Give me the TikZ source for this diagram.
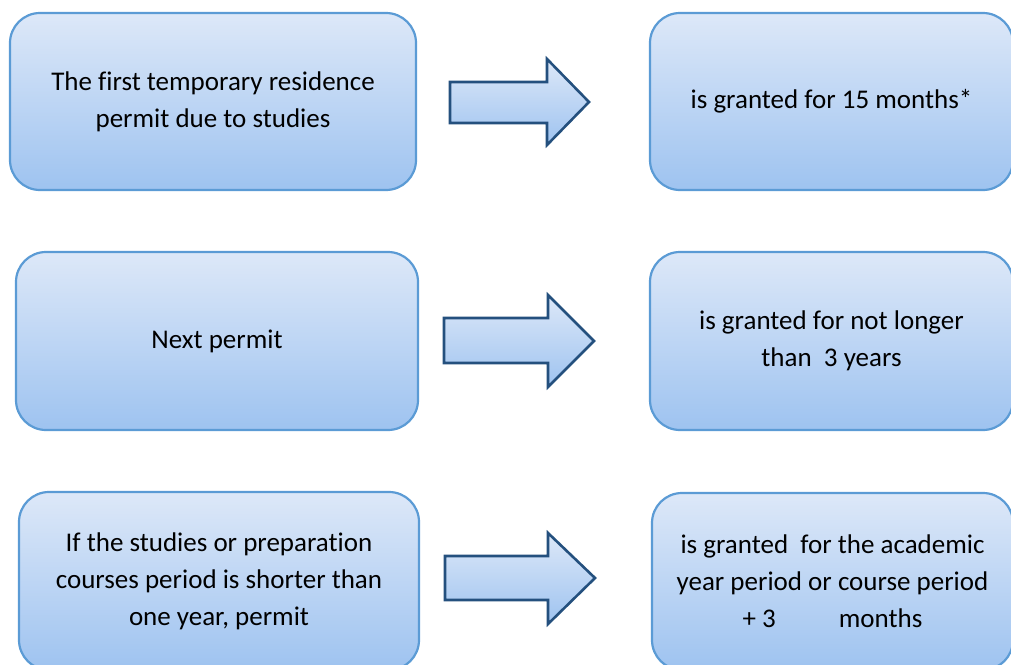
\documentclass[tikz,border=0pt]{standalone}
\usepackage{fontspec}
\setmainfont[Ligatures={NoCommon}]{Carlito}
\definecolor{boxtop}{HTML}{DDE8F8}
\definecolor{boxbot}{HTML}{9EC3F0}
\definecolor{boxline}{HTML}{5B9BD5}
\definecolor{arrline}{HTML}{24507E}
\tikzset{
  infobox/.style={draw=boxline, line width=2.2pt, rounded corners=30pt,
    top color=boxtop, bottom color=boxbot, align=center,
    font=\fontsize{27}{37}\selectfont, inner sep=0pt},
  blockarrow/.style={draw=arrline, line width=2.6pt, line join=miter,
    top color=boxtop, bottom color=boxbot}
}
\begin{document}
\begin{tikzpicture}[x=1pt,y=-1pt]
\useasboundingbox (0,0) rectangle (1011,664);
% row 1
\node[infobox, minimum width=406pt, minimum height=177pt] (l1) at (213,101.5)
  {The first temporary residence\\permit due to studies};
\node[infobox, minimum width=363pt, minimum height=177pt] (r1) at (831.5,101.5)
  {is granted for 15 months*};
% row 2
\node[infobox, minimum width=402pt, minimum height=178pt] (l2) at (217,341)
  {Next permit};
\node[infobox, minimum width=363pt, minimum height=178pt] (r2) at (831.5,341)
  {is granted for not longer\\than \ 3 years};
% row 3
\node[infobox, minimum width=400pt, minimum height=178pt] (l3) at (219,581)
  {If the studies or preparation\\courses period is shorter than\\one year, permit};
\node[infobox, minimum width=361pt, minimum height=177pt] (r3) at (832.5,581.5)
  {is granted \ for the academic\\year period or course period\\+ 3\hspace{63pt}months};
% arrows
\draw[blockarrow] (450,82) -- (547,82) -- (547,59) -- (589,102) -- (547,145) -- (547,123) -- (450,123) -- cycle;
\draw[blockarrow] (444,318) -- (548,318) -- (548,295) -- (594,341) -- (548,387) -- (548,363) -- (444,363) -- cycle;
\draw[blockarrow] (445,556) -- (548,556) -- (548,533) -- (595,578) -- (548,624) -- (548,600) -- (445,600) -- cycle;
\end{tikzpicture}
\end{document}
